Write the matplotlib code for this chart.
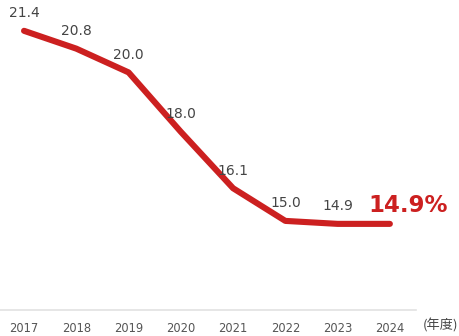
import matplotlib
matplotlib.use("Agg")
import matplotlib.pyplot as plt

years = ["2017", "2018", "2019", "2020", "2021", "2022", "2023", "2024"]
values = [21.4, 20.8, 20.0, 18.0, 16.1, 15.0, 14.9, 14.9]
value_labels = ["21.4", "20.8", "20.0", "18.0", "16.1", "15.0", "14.9"]
last_label = "14.9%"
unit_label = "(年度)"

plt.rcParams['font.family'] = ['DejaVu Sans', 'Noto Sans CJK JP']

fig = plt.figure(figsize=(4.6, 3.36), dpi=100)
ax = fig.add_axes([0.0, 1 - 310 / 336, 416 / 460, (310 - 13) / 336])

red = "#cc2020"
x = list(range(len(years)))
ax.plot(x, values, color=red, lw=4.4, solid_capstyle="round", solid_joinstyle="round", zorder=3)

for xi, v, lab in zip(x, values, value_labels):
    ax.annotate(lab, (xi, v), xytext=(0, 7.5), textcoords="offset points",
                ha="center", va="bottom", fontsize=10, color="#444444", zorder=4)

ax.annotate(last_label, (x[-1], values[-1]), xytext=(13, 5), textcoords="offset points",
            ha="center", va="bottom", fontsize=16.5, fontweight="bold", color=red, zorder=4)

ax.set_xlim(-0.46, 7.5)
ax.set_ylim(12, 22)
ax.set_xticks(x)
ax.set_xticklabels(years, fontsize=8.3, color="#555555")
ax.tick_params(axis="x", length=0, pad=9)
ax.set_yticks([])
for s in ["top", "right", "left"]:
    ax.spines[s].set_visible(False)
ax.spines["bottom"].set_color("#e2e2e2")
ax.spines["bottom"].set_linewidth(1.2)

fig.text(441 / 460, 1 - 325 / 336, unit_label, ha="center", va="center", fontsize=9.5,
         color="#444444", family=['Noto Sans CJK JP', 'DejaVu Sans'])

fig.savefig("out.png", dpi=100)
